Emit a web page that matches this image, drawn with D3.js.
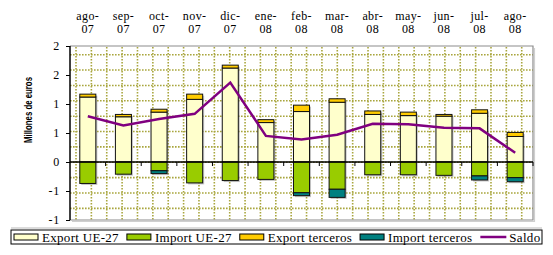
<!DOCTYPE html>
<meta charset="utf-8">
<script src="https://d3js.org/d3.v7.min.js"></script>
<style>
  body { margin: 0; background: #fff; }
  text { font-family: "Liberation Serif", "Times New Roman", serif; }
</style>
<body>
<svg width="553" height="255"></svg>
<script>
    // ---- data (millones de euros) ----
    var months    = ["ago-07","sep-07","oct-07","nov-07","dic-07","ene-08","feb-08",
                     "mar-08","abr-08","may-08","jun-08","jul-08","ago-08"];
    var exportUE  = [1.12, 0.78, 0.86, 1.08, 1.62, 0.68, 0.87, 1.03, 0.82, 0.80, 0.79, 0.84, 0.44];
    var exportTer = [0.05, 0.04, 0.05, 0.09, 0.05, 0.05, 0.11, 0.06, 0.06, 0.06, 0.03, 0.06, 0.07];
    var importUE  = [-0.37, -0.21, -0.15, -0.36, -0.32, -0.30, -0.53, -0.47, -0.22, -0.22, -0.23, -0.24, -0.27];
    var importTer = [0, 0, -0.05, 0, 0, 0, -0.05, -0.14, 0, 0, 0, -0.07, -0.07];
    var saldo     = [0.79, 0.63, 0.74, 0.83, 1.37, 0.45, 0.39, 0.47, 0.66, 0.65, 0.59, 0.58, 0.16];

    var yTickVals   = [-1, -0.5, 0, 0.5, 1, 1.5, 2];
    var yTickLabels = ["-1", "-1", "0", "1", "1", "2", "2"];
    var seriesNames = ["Export UE-27", "Import UE-27", "Export terceros", "Import terceros", "Saldo"];
    var seriesColors = ["#ffffcc", "#99cc00", "#ffcc00", "#008080", "#800080"];

    // plot box (note: "top" is reserved on window, so use pX names)
    var pL = 70, pR = 533, pT = 46, pB = 220;
    var svg = d3.select('svg');

    var x = d3.scaleBand().domain(months).range([pL, pR])
              .paddingInner(0.55).paddingOuter(0.275);
    var y = d3.scaleLinear().domain([-1, 2]).range([pB, pT]);

    // outer shadow line under plot
    svg.append('line').attr('x1', 11).attr('x2', 542).attr('y1', 228).attr('y2', 228)
       .attr('stroke', '#d0d0d0').attr('stroke-width', 1.5);

    // plot background + dotted grid (background pattern, not tied to values)
    svg.append('rect').attr('x', pL).attr('y', pT).attr('width', pR - pL)
       .attr('height', pB - pT).attr('fill', '#fff');
    var gridStep = 15.37;
    var grid = svg.append('g').attr('stroke', '#a9a63e').attr('stroke-width', 1.6)
                  .attr('stroke-dasharray', '1.6,1.4');
    grid.selectAll('line.v').data(d3.range(76, pR - 2, gridStep)).enter().append('line')
        .attr('x1', d => d).attr('x2', d => d).attr('y1', pT + 1).attr('y2', pB);
    grid.selectAll('line.h').data(d3.range(208.4, pT + 2, -gridStep)).enter().append('line')
        .attr('x1', pL).attr('x2', pR).attr('y1', d => d).attr('y2', d => d);

    // plot border (gray), with a faint shadow
    svg.append('path').attr('d', 'M' + pL + ',' + pT + 'H' + pR + 'V' + pB + 'H' + pL)
       .attr('fill', 'none').attr('stroke', '#8c8c8c').attr('stroke-width', 1.2);
    svg.append('path').attr('d', 'M' + (pR + 1.5) + ',' + (pT + 2) + 'V' + (pB + 1.5) + 'H' + (pL + 2))
       .attr('fill', 'none').attr('stroke', '#cfcfcf').attr('stroke-width', 1.2);

    // ---- stacked columns ----
    var rows = months.map(function(m, i){
        return { m: m,
                 eu: exportUE[i], et: exportTer[i], iu: importUE[i], it: importTer[i] };
    });

    var segs = [];
    rows.forEach(function(r){
        segs.push({ m: r.m, y0: 0, y1: r.eu, c: seriesColors[0] });
        if (r.et) segs.push({ m: r.m, y0: r.eu, y1: r.eu + r.et, c: seriesColors[2] });
        segs.push({ m: r.m, y0: 0, y1: r.iu, c: seriesColors[1] });
        if (r.it) segs.push({ m: r.m, y0: r.iu, y1: r.iu + r.it, c: seriesColors[3] });
    });

    // shadows
    svg.append('g').selectAll('rect').data(rows).enter().append('rect')
        .attr('x', d => x(d.m) + 1.5)
        .attr('y', d => y(d.eu + d.et) + 1.5)
        .attr('width', x.bandwidth())
        .attr('height', d => y(d.iu + d.it) - y(d.eu + d.et))
        .attr('fill', '#7a7a7a').attr('opacity', 0.45);

    svg.append('g').selectAll('rect').data(segs).enter().append('rect')
        .attr('x', d => x(d.m))
        .attr('y', d => y(Math.max(d.y0, d.y1)))
        .attr('width', x.bandwidth())
        .attr('height', d => Math.abs(y(d.y0) - y(d.y1)))
        .attr('fill', d => d.c)
        .attr('stroke', '#111').attr('stroke-width', 1);

    // ---- axes ----
    var yAxis = svg.append('g').attr('transform', 'translate(' + pL + ',0)')
        .call(d3.axisLeft(y).tickValues(yTickVals).tickSize(4).tickPadding(6)
              .tickFormat(function(d, i){ return yTickLabels[i]; }));
    yAxis.select('.domain').attr('stroke', '#000').attr('stroke-width', 1.5).attr('d', 'M0,' + pT + 'V' + pB);
    yAxis.selectAll('text').attr('font-size', 12).attr('fill', '#000')
         .style('letter-spacing', '0.8px');

    // zero line with ticks at category boundaries
    var zero = svg.append('g');
    zero.append('line').attr('x1', pL).attr('x2', pR).attr('y1', y(0)).attr('y2', y(0))
        .attr('stroke', '#000').attr('stroke-width', 1.5);
    zero.selectAll('line.t').data(months).enter().append('line')
        .attr('x1', (d, i) => pL + x.step() * (i + 1)).attr('x2', (d, i) => pL + x.step() * (i + 1))
        .attr('y1', y(0)).attr('y2', y(0) + 4)
        .attr('stroke', '#000').attr('stroke-width', 1);

    // category labels on top
    var lab = svg.append('g').selectAll('text').data(months).enter().append('text')
        .attr('text-anchor', 'middle').attr('font-size', 12).attr('fill', '#000')
        .style('letter-spacing', '0.4px');
    lab.append('tspan').attr('x', d => x(d) + x.bandwidth() / 2).attr('y', 20)
        .text(d => d.split('-')[0] + '-');
    lab.append('tspan').attr('x', d => x(d) + x.bandwidth() / 2).attr('y', 33)
        .text(d => d.split('-')[1]);

    // y title
    svg.append('text')
        .attr('transform', 'translate(32,110) rotate(-90)')
        .attr('text-anchor', 'middle')
        .style('font-family', '"Liberation Sans", Arial, sans-serif')
        .attr('font-weight', 'bold').attr('font-size', 11)
        .attr('textLength', 66).attr('lengthAdjust', 'spacingAndGlyphs')
        .text('Millones de euros');

    // ---- saldo line ----
    var line = d3.line()
        .x(function(d, i){ return x(months[i]) + x.bandwidth() / 2; })
        .y(function(d){ return y(d); });
    svg.append('path').datum(saldo).attr('d', line)
        .attr('fill', 'none').attr('stroke', seriesColors[4]).attr('stroke-width', 2.5);

    // ---- legend ----
    svg.append('rect').attr('x', 11).attr('y', 230).attr('width', 531).attr('height', 14)
       .attr('fill', '#fff').attr('stroke', '#000').attr('stroke-width', 1);
    var lx = 14;
    seriesNames.forEach(function(name, i){
        var g = svg.append('g').attr('transform', 'translate(' + lx + ',0)');
        if (i < 4) {
            g.append('rect').attr('x', 0).attr('y', 234).attr('width', 24).attr('height', 6)
             .attr('fill', seriesColors[i]).attr('stroke', '#000').attr('stroke-width', 1);
        } else {
            g.append('line').attr('x1', 0).attr('x2', 26).attr('y1', 237).attr('y2', 237)
             .attr('stroke', seriesColors[i]).attr('stroke-width', 2.5);
        }
        var t = g.append('text').attr('x', i < 4 ? 28 : 29).attr('y', 241.5).attr('font-size', 13)
                 .style('letter-spacing', '0.3px').text(name);
        lx += 28 + t.node().getComputedTextLength() + 8;
    });
</script>
</body>
